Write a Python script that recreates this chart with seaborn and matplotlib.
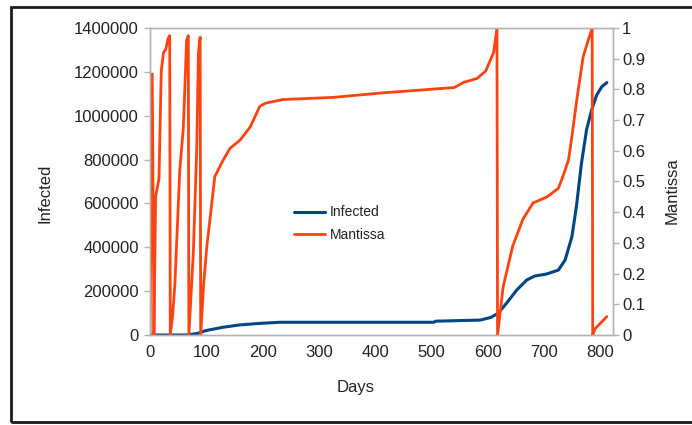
import numpy as np
import pandas as pd
import matplotlib.pyplot as plt
import matplotlib.patches as mpatches
import seaborn as sns

# values
inf_days = [0, 66, 84, 99, 129, 159, 195, 230, 300, 400, 504, 507, 586, 605, 618, 633,
            651, 669, 683, 704, 725, 737, 749, 757, 766, 775, 784, 793, 802, 811]
inf_vals = [0, 0, 7000, 20000, 35000, 46000, 53000, 58000, 58000, 58000, 58000, 63000,
            68000, 80000, 99000, 145000, 205000, 251000, 269000, 278000, 296000, 342000,
            448000, 585000, 783000, 935000, 1026000, 1094000, 1132000, 1151000]

man_days = [0, 4, 7, 10, 16, 20, 24, 28, 32, 35, 36, 40, 44, 53, 59, 62, 65, 68, 69,
            77, 83, 86, 89, 90, 95, 101, 107, 115, 130, 142, 160, 178, 195, 205, 236,
            325, 415, 540, 557, 581, 596, 610, 616, 617, 627, 644, 662, 680, 705, 725,
            733, 743, 749, 758, 769, 778, 785, 786, 790, 811]
man_vals = [0, 0.85, 0.0, 0.45, 0.51, 0.86, 0.92, 0.93, 0.965, 0.975, 0.0, 0.06, 0.16,
            0.54, 0.67, 0.81, 0.96, 0.975, 0.0, 0.27, 0.61, 0.92, 0.97, 0.0, 0.16, 0.29,
            0.385, 0.516, 0.57, 0.608, 0.635, 0.678, 0.745, 0.755, 0.767, 0.774, 0.789,
            0.806, 0.823, 0.836, 0.86, 0.92, 1.0, 0.0, 0.157, 0.29, 0.377, 0.43, 0.45,
            0.478, 0.516, 0.57, 0.646, 0.77, 0.906, 0.96, 1.0, 0.0, 0.02, 0.06]

left_ticks = [0, 200000, 400000, 600000, 800000, 1000000, 1200000, 1400000]
right_ticks = [0, 0.1, 0.2, 0.3, 0.4, 0.5, 0.6, 0.7, 0.8, 0.9, 1]
right_labels = ['0', '0.1', '0.2', '0.3', '0.4', '0.5', '0.6', '0.7', '0.8', '0.9', '1']
day_ticks = [0, 100, 200, 300, 400, 500, 600, 700, 800]

inf_df = pd.DataFrame({'Days': inf_days, 'Infected': inf_vals})
man_df = pd.DataFrame({'Days': man_days, 'Mantissa': man_vals})

sns.set_style('white')
plt.rcParams['font.family'] = ['Liberation Sans', 'DejaVu Sans']

BLUE = '#004586'
ORANGE = '#ff420e'
GREY = '#b3b3b3'
TXT = '#222222'

fig = plt.figure(figsize=(6.92, 4.25), dpi=100)
ax = fig.add_axes([150 / 692, 1 - 335 / 425, 463 / 692, 307 / 425])
ax2 = ax.twinx()

sns.lineplot(data=inf_df, x='Days', y='Infected', ax=ax, color=BLUE, linewidth=2.2,
             estimator=None, sort=False, label='Infected', legend=False)
sns.lineplot(data=man_df, x='Days', y='Mantissa', ax=ax2, color=ORANGE, linewidth=2.0,
             estimator=None, sort=False, label='Mantissa', legend=False)

ax.set_xlim(0, 822)
ax.set_ylim(0, 1400000)
ax2.set_ylim(0, 1)

ax.set_xticks(day_ticks)
ax.set_xticklabels([str(d) for d in day_ticks], family=['Liberation Sans Narrow', 'Liberation Sans'],
                   fontsize=12, color=TXT)
ax.set_yticks(left_ticks)
ax.set_yticklabels([str(v) for v in left_ticks], fontsize=12, color=TXT)
ax2.set_yticks(right_ticks)
ax2.set_yticklabels(right_labels, fontsize=12, color=TXT)

for a in [ax, ax2]:
    for s in a.spines.values():
        s.set_color(GREY)
        s.set_linewidth(1.0)
    a.tick_params(axis='both', which='major', direction='out', length=4.5, width=1.0,
                  color=GREY)
    a.grid(False)
ax.tick_params(axis='y', pad=3.5)
ax.tick_params(axis='x', pad=3)
ax2.tick_params(axis='y', pad=2)

ax.set_xlabel('Days', fontsize=12, color=TXT)
ax.xaxis.label.set(va='center', ha='center')
ax.xaxis.set_label_coords(0.445, -0.1726)
ax.set_ylabel('Infected', fontsize=12, color=TXT)
ax.yaxis.label.set(va='center', ha='center')
ax.yaxis.set_label_coords(-0.227, 0.46)
ax2.set_ylabel('Mantissa', fontsize=12, color=TXT)
ax2.yaxis.label.set(va='center', ha='center')
ax2.yaxis.set_label_coords(1.127, 0.47)

handles = ax.get_lines() + ax2.get_lines()
fig.legend(handles, [h.get_label() for h in handles], loc='center',
           bbox_to_anchor=(0.491, 0.474), frameon=False, fontsize=10,
           handlelength=2.2, handletextpad=0.35, labelspacing=0.6, labelcolor=TXT)

# dark frame round the picture
frame = mpatches.Rectangle((11 / 692, 3 / 425), 1.2, 415 / 425, transform=fig.transFigure,
                           fill=False, edgecolor='#1a1a1a', linewidth=2.0)
fig.patches.append(frame)

fig.savefig('out.png', dpi=100)
